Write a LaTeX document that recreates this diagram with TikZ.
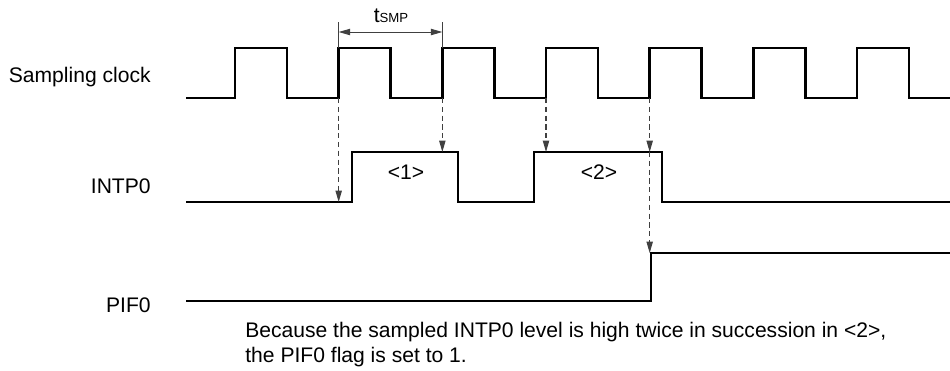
\documentclass[tikz,border=0pt]{standalone}
\usepackage{fontspec}
\setmainfont{Liberation Sans}
\usetikzlibrary{arrows.meta, calc}

\begin{document}
\begin{tikzpicture}[x=0.02cm, y=-0.02cm,
    signal/.style={line width=1.6pt, line join=miter},
    sample/.style={-{Triangle[length=6.5pt, width=3.6pt]}, dashed, dash pattern=on 3pt off 2pt, line width=0.6pt, black!75},
    dim/.style={line width=0.5pt, black!75},
    lbl/.style={font=\fontsize{12}{14}\selectfont, inner sep=0pt}]
  \useasboundingbox (0,0) rectangle (950,370);
  % Signal levels
  \coordinate (inlo) at (0,202);
  \coordinate (inhi) at (0,152);
  \coordinate (pfhi) at (0,253);
  % Sampling clock
  \draw[signal] (186,98) \foreach \k in {0,...,6} {
      -- ({235+103.67*\k},98) -- ++(0,-50) -- ++(52,0) -- ++(0,50)} -- (950,98);
  \foreach \k in {0,...,6}
    \coordinate (clk\k) at ({235+103.67*\k},98);
  \node[lbl, anchor=base east] (lclk) at (151,82) {Sampling clock};
  % Sampling period
  \draw[dim] (clk1) ++(0,-76) coordinate (tsa) -- ++(0,26);
  \draw[dim] (clk2) ++(0,-76) coordinate (tsb) -- ++(0,26);
  \draw[dim, {Triangle[length=6.5pt, width=3.6pt]}-{Triangle[length=6.5pt, width=3.6pt]}]
    ($(tsa)+(0,10)$) -- ($(tsb)+(0,10)$);
  \node[lbl, anchor=base] (tsmp) at (391,22) {t{\fontsize{7.5}{8}\selectfont SMP}};
  % INTP0
  \draw[signal] (186,202) -- (352,202) -- (352,152) -- (458,152) -- (458,202)
    -- (534,202) -- (534,152) -- (662,152) -- (662,202) -- (950,202);
  \node[lbl, anchor=base east] (lint) at (151,193) {INTP0};
  \node[lbl] (s1) at (406,172) {<1>};
  \node[lbl] (s2) at (599,172) {<2>};
  % PIF0
  \draw[signal] (186,301) -- (651,301) -- (651,253) -- (950,253);
  \node[lbl, anchor=base east] (lpif) at (151,312) {PIF0};
  % Sampling points
  \draw[sample] (clk1) -- (clk1 |- inlo);
  \draw[sample] (clk2) -- (clk2 |- inhi);
  \draw[sample] (clk3) -- (clk3 |- inhi);
  \draw[sample] (clk4) -- (clk4 |- inhi);
  \draw[sample] (clk4 |- inhi) -- (clk4 |- pfhi);
  % Note
  \node[lbl, anchor=base west] (note1) at (245,337)
    {Because the sampled INTP0 level is high twice in succession in <2>,};
  \node[lbl, anchor=base west] (note2) at (245,362) {the PIF0 flag is set to 1.};
\end{tikzpicture}
\end{document}
